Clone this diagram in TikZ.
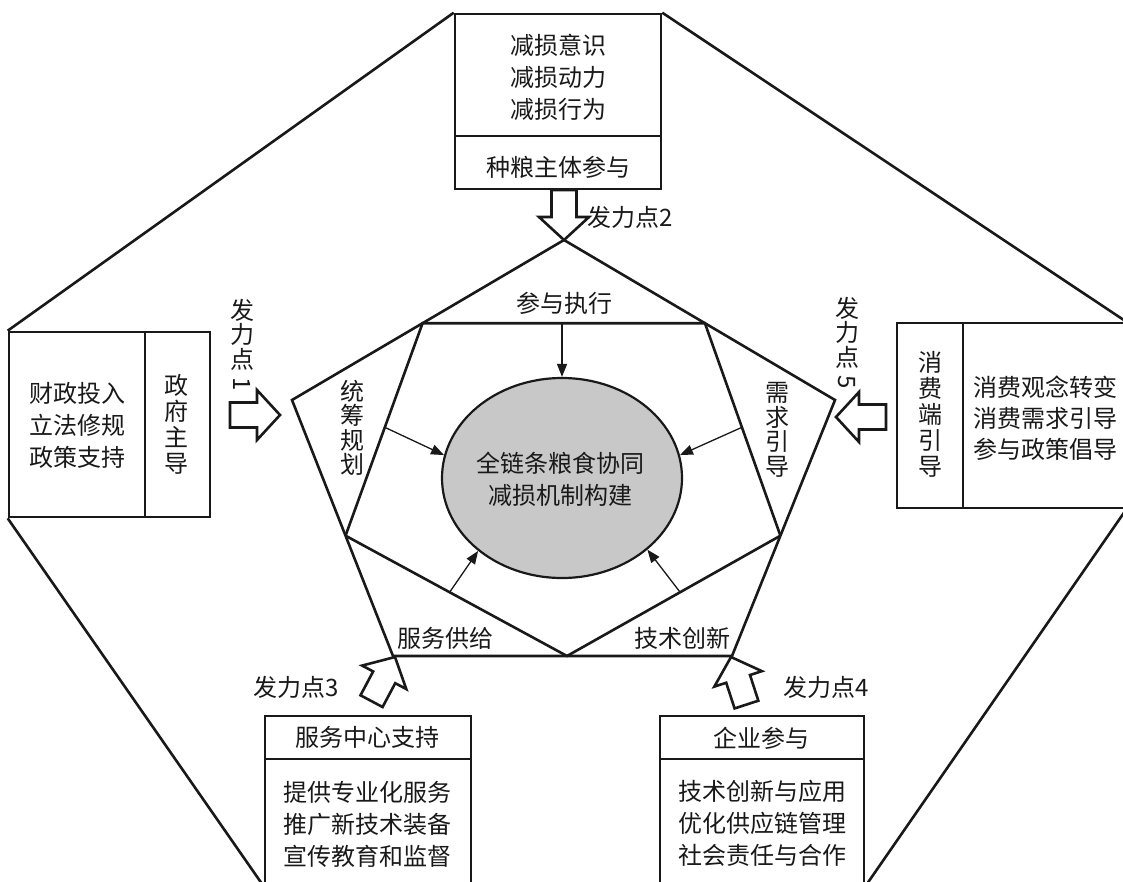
\documentclass[tikz,border=0pt]{standalone}
\usepackage{fontspec}
\usepackage{graphicx}
\newfontfamily\cjk{Noto Sans CJK SC}
\usetikzlibrary{calc,arrows.meta,shapes.geometric}
\definecolor{ellgray}{RGB}{200,200,200}
\definecolor{ink}{RGB}{25,25,25}
\newcommand{\blockarr}[2]{%
  \draw[blk, shift={#1}, rotate=#2] (0,0) -- (-23,25) -- (-23,12.5) -- (-50,12.5) -- (-50,-12.5) -- (-23,-12.5) -- (-23,-25) -- cycle;}
\newcommand{\vdigit}[1]{\rotatebox[origin=c]{-90}{#1}}
\tikzset{
  thickline/.style={draw=ink, line width=2.6pt},
  box/.style={draw=ink, line width=2.6pt, fill=white, inner sep=0pt},
  txt/.style={font=\cjk\fontsize{24}{32}\selectfont, text=ink, align=center, inner sep=0pt},
  vtxt/.style={font=\cjk\fontsize{24}{26}\selectfont, text=ink, align=center, inner sep=0pt},
  vtxs/.style={font=\cjk\fontsize{24}{24.5}\selectfont, text=ink, align=center, inner sep=0pt},
  blk/.style={draw=ink, line width=2.6pt, fill=white, line join=miter},
  inarr/.style={draw=ink, line width=1.3pt, -{Triangle[length=13pt,width=10pt]}},
}
\begin{document}
\begin{tikzpicture}[x=1pt,y=-1pt]
\fill[white] (0,0) rectangle (1123,881);
\useasboundingbox (0,0) rectangle (1123,881);

% boxes
\node[box, minimum width=206pt, minimum height=122pt] (topU) at (558,75) {};
\node[box, minimum width=206pt, minimum height=53pt] (topL) at (558,162.5) {};
\node[box, minimum width=136pt, minimum height=185pt] (leftL) at (77,424.5) {};
\node[box, minimum width=65pt, minimum height=185pt] (leftR) at (177.5,424.5) {};
\node[box, minimum width=66pt, minimum height=185pt] (rightL) at (930,415.5) {};
\node[box, minimum width=162pt, minimum height=185pt] (rightR) at (1044,415.5) {};
\node[box, minimum width=206pt, minimum height=43pt] (svcU) at (368,737.5) {};
\node[box, minimum width=206pt, minimum height=126pt] (svcL) at (368,822) {};
\node[box, minimum width=204pt, minimum height=43pt] (entU) at (762,737.5) {};
\node[box, minimum width=204pt, minimum height=126pt] (entL) at (762,822) {};

% outer connectors
\draw[thickline] (topU.north west) -- (leftL.north west);
\draw[thickline] (topU.north east) -- (rightR.north east);
\draw[thickline] (leftL.south west) -- (svcL.south west);
\draw[thickline] (rightR.south east) -- (entL.south east);

% box texts
\node[txt] (tt) at (558,77) {减损意识\\减损动力\\减损行为};
\node[txt] (tb) at (558,167) {种粮主体参与};
\node[txt] (lt) at (77,425) {财政投入\\立法修规\\政策支持};
\node[vtxt] (lv) at (176,424) {政\\府\\主\\导};
\node[vtxt] (rv) at (930,414) {消\\费\\端\\引\\导};
\node[txt, font=\cjk\fontsize{24}{31}\selectfont] (rt) at (1045,418) {消费观念转变\\消费需求引导\\参与政策倡导};
\node[txt] (st) at (367,737) {服务中心支持};
\node[txt] (sl) at (367,824) {提供专业化服务\\推广新技术装备\\宣传教育和监督};
\node[txt] (et) at (761,738) {企业参与};
\node[txt] (el) at (762,823) {技术创新与应用\\优化供应链管理\\社会责任与合作};

% pentagon
\coordinate (PT) at (564,240);
\coordinate (PR) at (835,400);
\coordinate (PBR) at (732,656);
\coordinate (PBL) at (393,656);
\coordinate (PL) at (292,400);
\draw[thickline, line join=miter] (PT) -- (PR) -- (PBR) -- (PBL) -- (PL) -- cycle;

% inner hexagon
\coordinate (H1) at ($(PL)!0.48!(PT)$);
\coordinate (H2) at ($(PR)!0.48!(PT)$);
\coordinate (H3) at ($(PR)!0.53!(PBR)$);
\coordinate (H6) at ($(PL)!0.53!(PBL)$);
\coordinate (HM) at (567,656);
\draw[thickline] (H6) -- (H1) -- (H2) -- (H3);
\draw[thickline] (H6) -- (HM) -- (H3);

% ellipse
\node[ellipse, draw=ink, fill=ellgray, line width=2.2pt, minimum width=240pt, minimum height=200pt, inner sep=0pt] (ell) at (562,478) {};
\node[txt] (et2) at (560,479) {全链条粮食协同\\减损机制构建};

% inner arrows
\draw[inarr] (ell.north |- H1) -- (ell.north);
\draw[inarr] ($(H1)!0.49!(H6)$) -- (ell.169);
\draw[inarr] ($(H2)!0.49!(H3)$) -- (ell.11);
\draw[inarr] ($(H6)!0.47!(HM)$) -- (ell.221);
\draw[inarr] ($(H3)!0.47!(HM)$) -- (ell.320);

% inner labels
\node[txt] (lbtop) at (564,303) {参与执行};
\node[vtxs] (lbl) at (352,428) {统\\筹\\规\\划};
\node[vtxs] (lbr) at (777,430) {需\\求\\引\\导};
\node[txt] (lbbl) at (445,638) {服务供给};
\node[txt] (lbbr) at (682,638) {技术创新};

% block arrows
\blockarr{(280,415)}{0}
\blockarr{(564,240)}{-90}
\blockarr{(395,657)}{62}
\blockarr{(731,657)}{108}
\blockarr{(836,417)}{180}

% force point labels
\node[vtxs] (f1) at (242,346) {发\\力\\点\\\vdigit{1}};
\node[txt, anchor=west] (f2) at (587,217) {发力点2};
\node[txt] (f3) at (296,687) {发力点3};
\node[txt] (f4) at (826,687) {发力点4};
\node[vtxs] (f5) at (847,344) {发\\力\\点\\\vdigit{5}};
\end{tikzpicture}
\end{document}
